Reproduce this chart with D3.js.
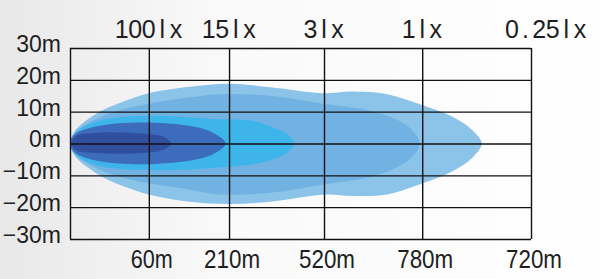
<!DOCTYPE html>
<html>
<head>
<meta charset="utf-8">
<script src="https://cdn.jsdelivr.net/npm/d3@7"></script>
<style>
  html, body { margin: 0; padding: 0; background: #fff; }
  svg { display: block; }
  text { font-family: 'Liberation Sans', Arial, sans-serif; fill: #1e1e1e; }
</style>
</head>
<body>
<div class="beam"></div>
<script>
(function() {
  'use strict';

  const WIDTH = 607;
  const HEIGHT = 279;

  // Grid columns, in percent of plot width
  const X_GRID = [0, 17.1, 34.5, 55.1, 76.4, 100];
  const TOP_LABELS = ['100lx', '15lx', '3lx', '1lx', '0.25lx'];
  const BOTTOM_LABELS = ['60m', '210m', '520m', '780m', '720m'];
  const Y_TICKS = [30, 20, 10, 0, -10, -20, -30];

  // Beam contours: distance (percent of width), half width above / below axis (m)
  const BEAM_025_X  = [0, 1.1, 6.1, 10.9, 17.1, 26, 34.5, 43.4, 55.3, 61.4, 68.8, 75.9, 83.1, 87.4, 89.3];
  const BEAM_025_UP = [0, 4, 9.7, 12.8, 15.8, 17.8, 18.8, 17.7, 15.8, 16.3, 15.5, 12.3, 8.3, 4, 0];
  const BEAM_025_DN = [0, 4, 9.7, 13, 16, 18.3, 19, 18.3, 16, 16.5, 16, 12.8, 8.6, 4.3, 0];

  const BEAM_1_X  = [0, 1.1, 6.1, 10.9, 17.1, 26, 32.5, 43.4, 55.3, 65.1, 71.6, 74.5, 75.9];
  const BEAM_1_UP = [0, 3.5, 8, 10.5, 12.5, 14.5, 15.5, 15, 12.4, 10.3, 7, 3.8, 0];
  const BEAM_1_DN = [0, 3.5, 8, 10.5, 12.5, 14.5, 16, 15.5, 12.8, 10.5, 7, 3.8, 0];

  const BEAM_3_X  = [0, 1.7, 6.1, 17.1, 32.5, 39.7, 44, 47.1, 48.6];
  const BEAM_3_UP = [0, 4, 7.1, 8.7, 7.6, 7.1, 5, 2.9, 0];
  const BEAM_3_DN = [0, 4, 7, 8.4, 7.5, 6.5, 5, 2.8, 0];

  const BEAM_15_X  = [0, 1.1, 6.1, 17.1, 27.8, 31.5, 33.8];
  const BEAM_15_UP = [0, 2.9, 5.5, 6.6, 5, 3, 0];
  const BEAM_15_DN = [0, 2.9, 5.5, 6.5, 4.9, 3, 0];

  const BEAM_100_X  = [0.4, 1.1, 6.1, 17.1, 20.6, 21.9];
  const BEAM_100_UP = [0, 2.2, 3.4, 2.9, 2, 0];
  const BEAM_100_DN = [0, 2.0, 3.1, 2.8, 1.8, 0];

  const BEAMS = [
    { xs: BEAM_025_X, up: BEAM_025_UP, dn: BEAM_025_DN, color: '#8cc3e9' },
    { xs: BEAM_1_X,   up: BEAM_1_UP,   dn: BEAM_1_DN,   color: '#72b2e2' },
    { xs: BEAM_3_X,   up: BEAM_3_UP,   dn: BEAM_3_DN,   color: '#3db5ea' },
    { xs: BEAM_15_X,  up: BEAM_15_UP,  dn: BEAM_15_DN,  color: '#3e6cbd' },
    { xs: BEAM_100_X, up: BEAM_100_UP, dn: BEAM_100_DN, color: '#30509f' }
  ];

  const M = { left: 70, right: 76, top: 48, bottom: 40 };
  const W = WIDTH - M.left - M.right;
  const H = HEIGHT - M.top - M.bottom;
  const CELL = 13.6;

  const x = d3.scaleLinear().domain([0, 100]).range([0, W]);
  const y = d3.scaleLinear().domain([-30, 30]).range([H, 0]);

  const svg = d3.select('.beam')
    .append('svg')
    .attr('width', WIDTH)
    .attr('height', HEIGHT);

  // soft grey wash on the left, like the photo
  const grad = svg.append('defs').append('linearGradient')
    .attr('id', 'bg').attr('x1', 0).attr('x2', 1).attr('y1', 0).attr('y2', 0);
  grad.append('stop').attr('offset', '0%').attr('stop-color', '#e8e8e8');
  grad.append('stop').attr('offset', '35%').attr('stop-color', '#f9f9f9');
  grad.append('stop').attr('offset', '100%').attr('stop-color', '#ffffff');
  svg.append('rect').attr('width', WIDTH).attr('height', HEIGHT).attr('fill', 'url(#bg)');

  const g = svg.append('g').attr('transform', 'translate(' + M.left + ',' + M.top + ')');

  // Beam shapes, outer first
  const outline = d3.line()
    .x(function(d) { return x(d[0]); })
    .y(function(d) { return y(d[1]); })
    .curve(d3.curveCatmullRomClosed.alpha(0.5));

  function contour(b) {
    const pts = [];
    const n = b.xs.length;
    for (let i = 0; i < n; ++i) pts.push([b.xs[i], b.up[i]]);
    for (let i = n - 2; i > 0; --i) pts.push([b.xs[i], -b.dn[i]]);
    return pts;
  }

  g.append('g').selectAll('path')
    .data(BEAMS)
    .join('path')
    .attr('d', function(b) { return outline(contour(b)); })
    .attr('fill', function(b) { return b.color; });

  // Horizontal grid + y labels
  const yAxis = g.append('g')
    .call(d3.axisLeft(y)
      .tickValues(Y_TICKS)
      .tickSize(-W)
      .tickPadding(9)
      .tickFormat(function(d) { return (d < 0 ? '\u2212' + (-d) : d) + 'm'; }));
  yAxis.select('.domain').remove();
  yAxis.selectAll('line').attr('stroke', '#111').attr('stroke-width', 1.4);
  yAxis.selectAll('text')
    .attr('dy', '0.15em')
    .style('font-size', '23px')
    .style('font-family', "'Liberation Sans', Arial, sans-serif")
    .attr('fill', '#1e1e1e');

  // Vertical grid
  const xAxis = g.append('g')
    .attr('transform', 'translate(0,' + H + ')')
    .call(d3.axisBottom(x).tickValues(X_GRID).tickSize(-H).tickFormat(''));
  xAxis.select('.domain').remove();
  xAxis.selectAll('line').attr('stroke', '#111').attr('stroke-width', 1.4);

  // Lux labels above, one character per cell
  const cols = X_GRID.slice(1);
  g.append('g').selectAll('text')
    .data(TOP_LABELS)
    .join('text')
    .attr('y', -10)
    .attr('text-anchor', 'middle')
    .style('font-size', '25px')
    .attr('x', function(d, i) {
      const cx = x(cols[i]) + (i === cols.length - 1 ? 15 : 0);
      const start = cx - d.length * CELL / 2;
      return d.split('').map(function(c, k) { return (start + CELL * (k + 0.5)).toFixed(1); }).join(' ');
    })
    .text(function(d) { return d; });

  // Distance labels below
  g.append('g').selectAll('text')
    .data(BOTTOM_LABELS)
    .join('text')
    .attr('x', function(d, i) { return x(cols[i]) + 3; })
    .attr('y', H + 29)
    .attr('text-anchor', 'middle')
    .attr('textLength', function(d) { return d.length * 14; })
    .attr('lengthAdjust', 'spacingAndGlyphs')
    .style('font-size', '25px')
    .text(function(d) { return d; });
})();
</script>
</body>
</html>
